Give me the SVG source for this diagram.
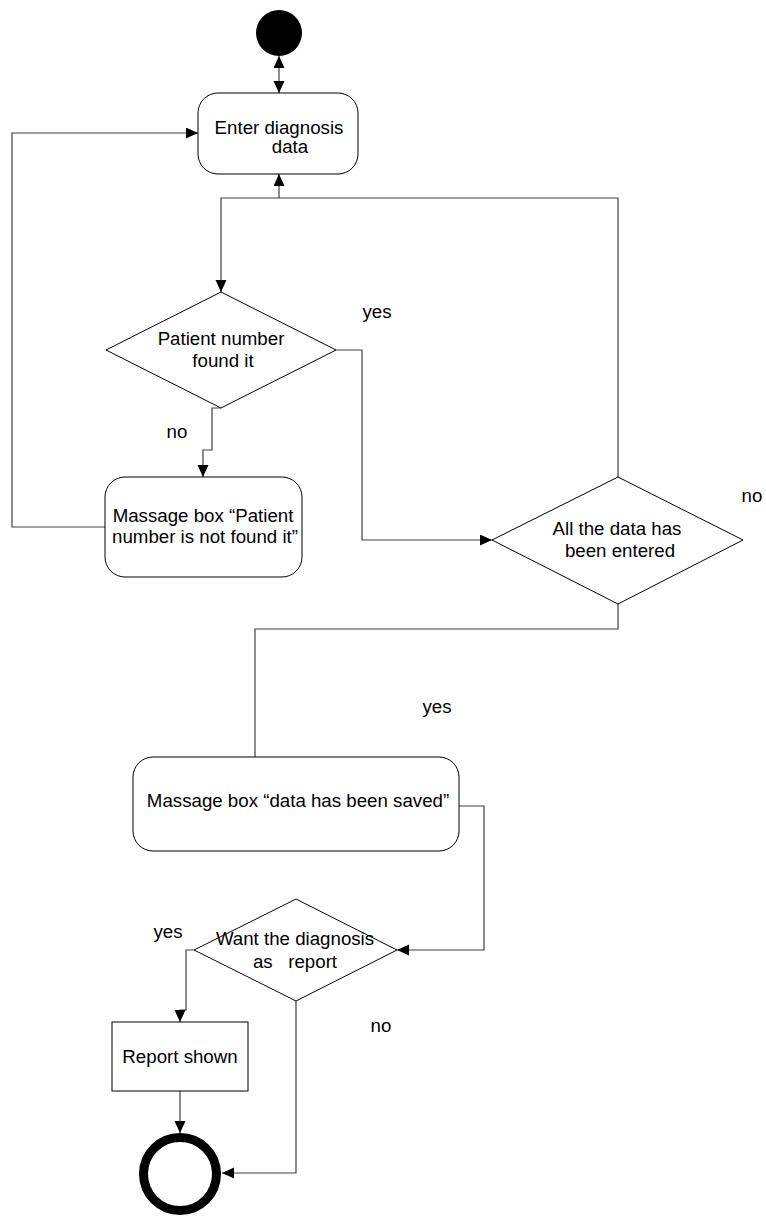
<svg xmlns="http://www.w3.org/2000/svg" width="766" height="1216" viewBox="0 0 766 1216">
<defs>
<style>
text{font-family:"Liberation Sans",Arial,sans-serif;font-size:18.7px;fill:#000;text-anchor:middle;white-space:pre}
.shape{fill:#fff;stroke:#000;stroke-width:1}
.conn{fill:none;stroke:#404040;stroke-width:1.2}
</style>
<marker id="arr" markerUnits="userSpaceOnUse" markerWidth="13" markerHeight="12" refX="12" refY="5.5" orient="auto-start-reverse" viewBox="0 0 13 12">
<path d="M0,0 L12,5.5 L0,11 z" fill="#000"/>
</marker>
</defs>
<rect width="766" height="1216" fill="#fff"/>
<g id="connectors">
<path class="conn" d="M279,56 V93" marker-start="url(#arr)" marker-end="url(#arr)"/>
<path class="conn" d="M618,477 V198 H221 V292" marker-end="url(#arr)"/>
<path class="conn" d="M279,198 V174" marker-end="url(#arr)"/>
<path class="conn" d="M221,408 H212 V450 H203 V477" marker-end="url(#arr)"/>
<path class="conn" d="M105,527 H12 V133 H198" marker-end="url(#arr)"/>
<path class="conn" d="M336,350 H362 V540 H492" marker-end="url(#arr)"/>
<path class="conn" d="M618,604 V629 H255 V757"/>
<path class="conn" d="M459,806 H484 V950 H397" marker-end="url(#arr)"/>
<path class="conn" d="M194,950 H186 V1010 H180 V1022" marker-end="url(#arr)"/>
<path class="conn" d="M180,1091 V1133" marker-end="url(#arr)"/>
<path class="conn" d="M296,1001 V1173 H222" marker-end="url(#arr)"/>
</g>
<g id="start"><circle cx="279" cy="33" r="23" fill="#000"/></g>
<g id="enter">
<rect class="shape" x="198" y="93" width="160" height="81" rx="20"/>
<text x="279" y="134">Enter diagnosis</text>
<text x="290" y="153">data</text>
</g>
<g id="patient-found">
<polygon class="shape" points="221,292 336,350 221,408 106,350"/>
<text x="221" y="345">Patient number</text>
<text x="223" y="367">found it</text>
</g>
<g id="not-found">
<rect class="shape" x="105" y="477" width="197" height="100" rx="20"/>
<text x="203" y="522">Massage box “Patient</text>
<text x="205" y="543">number is not found it”</text>
</g>
<g id="all-entered">
<polygon class="shape" points="618,477 743,540 618,604 492,540"/>
<text x="617" y="535">All the data has</text>
<text x="620" y="557">been entered</text>
</g>
<g id="saved">
<rect class="shape" x="133" y="757" width="326" height="94" rx="20"/>
<text x="298" y="807">Massage box “data has been saved”</text>
</g>
<g id="want-report">
<polygon class="shape" points="296,899 397,950 296,1001 194,950"/>
<text x="295" y="945">Want the diagnosis</text>
<text x="295" y="968">as   report</text>
</g>
<g id="report-shown">
<rect class="shape" x="112" y="1022" width="136" height="69"/>
<text x="180" y="1063">Report shown</text>
</g>
<g id="end"><circle cx="180" cy="1174" r="36.5" fill="#fff" stroke="#000" stroke-width="9"/></g>
<g id="labels">
<text x="377" y="318">yes</text>
<text x="177" y="438">no</text>
<text x="752" y="502">no</text>
<text x="437" y="713">yes</text>
<text x="168" y="938">yes</text>
<text x="381" y="1032">no</text>
</g>
</svg>
